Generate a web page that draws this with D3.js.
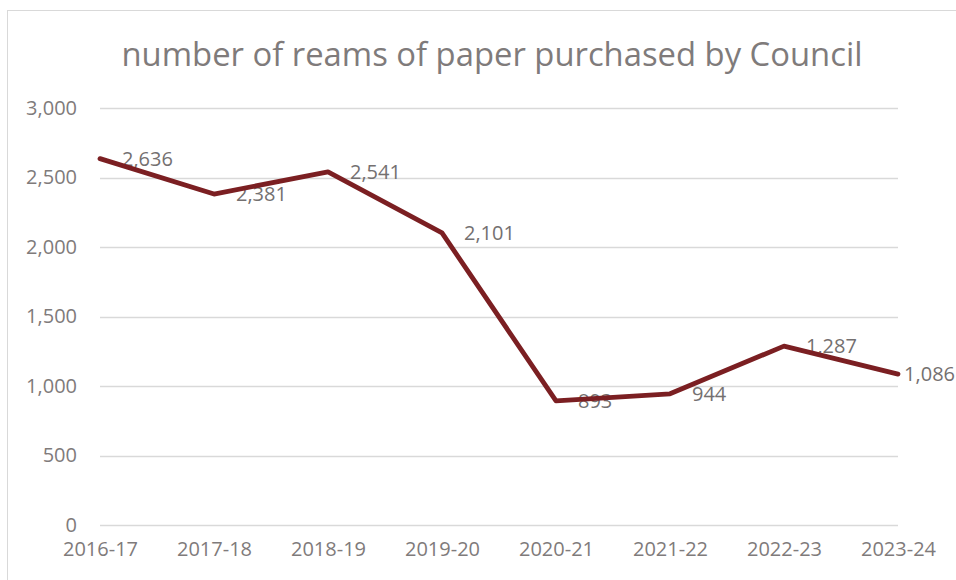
<!DOCTYPE html>
<html>
<head>
<meta charset="utf-8">
<script src="https://cdn.jsdelivr.net/npm/d3@7"></script>
<style>
  html, body { margin: 0; padding: 0; background: #fff; }
  svg { display: block; }
  text { font-family: "Open Sans", "Noto Sans", sans-serif; }
</style>
</head>
<body>
<svg id="chart" width="956" height="580"></svg>
<script>
// Financial years and reams purchased
const years = ["2016-17", "2017-18", "2018-19", "2019-20", "2020-21", "2021-22", "2022-23", "2023-24"];
const reams = [2636, 2381, 2541, 2101, 893, 944, 1287, 1086];
const yTicks = [0, 500, 1000, 1500, 2000, 2500, 3000];
const titleText = "number of reams of paper purchased by Council";

const svg = d3.select("#chart");
const W = 956, H = 580;
const margin = { left: 100, right: 58, top: 108, bottom: 55 };
const textGrey = "#7f7b7b";

// chart frame
svg.append("rect")
  .attr("x", 7.5).attr("y", 10.5)
  .attr("width", W + 20).attr("height", H + 20)
  .attr("fill", "#fff").attr("stroke", "#d9d9d9").attr("stroke-width", 1);

const x = d3.scalePoint().domain(years).range([margin.left, W - margin.right]).padding(0);
const y = d3.scaleLinear().domain([0, 3000]).range([H - margin.bottom, margin.top]);

// horizontal gridlines
svg.append("g")
  .selectAll("line").data(yTicks).join("line")
  .attr("x1", margin.left).attr("x2", W - margin.right)
  .attr("y1", d => Math.round(y(d)) + 0.5).attr("y2", d => Math.round(y(d)) + 0.5)
  .attr("stroke", "#d9d9d9").attr("stroke-width", 1.3);

// y axis labels
const yAxis = d3.axisLeft(y).tickValues(yTicks).tickFormat(d3.format(",")).tickSize(0).tickPadding(0);
const gy = svg.append("g").attr("transform", `translate(${margin.left - 23},0)`).call(yAxis);
gy.select(".domain").remove();
gy.selectAll("text").attr("fill", textGrey).style("font-size", "20px").attr("font-family", null);

// x axis labels
const xAxis = d3.axisBottom(x).tickSize(0).tickPadding(0);
const gx = svg.append("g").attr("transform", `translate(0,${H - margin.bottom + 17})`).call(xAxis);
gx.select(".domain").remove();
gx.selectAll("text").attr("fill", textGrey).style("font-size", "20px").attr("font-family", null);

// data labels to the right of each point, kept inside the chart's right edge
svg.append("g")
  .selectAll("text").data(reams).join("text")
  .attr("x", (d, i) => x(years[i]) + 22)
  .attr("y", d => y(d))
  .attr("dy", "0.35em")
  .attr("fill", "#747070")
  .style("font-size", "20px")
  .text(d => d3.format(",")(d))
  .each(function () {
    const t = d3.select(this);
    const w = this.getComputedTextLength();
    const x0 = +t.attr("x");
    if (x0 + w > W - 1) t.attr("x", W - 1 - w);
  });

// series line
const line = d3.line().x((d, i) => x(years[i])).y(d => y(d));
svg.append("path")
  .datum(reams)
  .attr("d", line)
  .attr("fill", "none")
  .attr("stroke", "#7b1f22")
  .attr("stroke-width", 4.8)
  .attr("stroke-linejoin", "round")
  .attr("stroke-linecap", "round");

// title
svg.append("text")
  .attr("x", 492).attr("y", 66)
  .attr("text-anchor", "middle")
  .attr("fill", textGrey)
  .style("font-size", "32.8px")
  .text(titleText);
</script>
</body>
</html>
